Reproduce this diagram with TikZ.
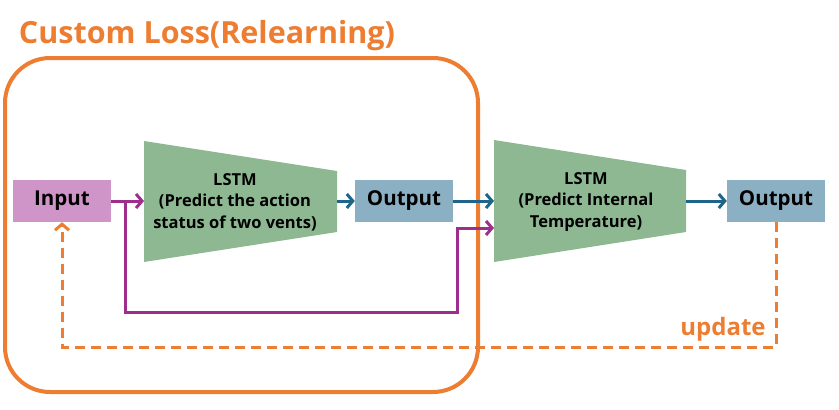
\documentclass[tikz,border=0pt]{standalone}
\usepackage{fontspec}
\setmainfont{Open Sans}
\usetikzlibrary{arrows.meta, positioning}
\definecolor{lossorange}{HTML}{ED7D31}
\definecolor{inpink}{HTML}{CF94C8}
\definecolor{lstmgreen}{HTML}{8DB892}
\definecolor{outblue}{HTML}{8BAFC3}
\definecolor{linkpurple}{HTML}{9E2E8E}
\definecolor{linkblue}{HTML}{1F6489}

\tikzset{
  databox/.style={minimum width=98pt, minimum height=42pt, inner sep=0pt,
    font=\fontsize{20.5}{24}\selectfont\bfseries},
  lstmtext/.style={align=center, inner sep=0pt,
    font=\fontsize{16.5}{21.5}\selectfont\bfseries},
  purplelink/.style={draw=linkpurple, line width=3pt,
    -{Straight Barb[length=6pt,width=14pt]}},
  bluelink/.style={draw=linkblue, line width=3pt,
    -{Straight Barb[length=6pt,width=14pt]}},
  updatelink/.style={draw=lossorange, line width=3pt, dash pattern=on 10pt off 6pt,
    -{Straight Barb[length=6pt,width=14pt]}},
}

\begin{document}
\begin{tikzpicture}[x=1pt, y=-1pt]
  \useasboundingbox (0,0) rectangle (839,410);

  % relearning frame
  \draw[lossorange, line width=4pt, rounded corners=45pt] (5,58) rectangle (478,392);
  \node[text=lossorange, font=\fontsize{30.5}{34}\selectfont\bfseries] (title) at (207,36) {Custom Loss(Relearning)};

  % boxes
  \node[databox, fill=inpink] (input) at (62,201) {Input};
  \node[databox, fill=outblue] (outA) at (404,201) {Output};
  \node[databox, fill=outblue] (outB) at (776,201) {Output};

  % two LSTM blocks
  \fill[lstmgreen] (144,141) -- (337,171) -- (337,232) -- (144,262) -- cycle;
  \fill[lstmgreen] (494,140) -- (686,170) -- (686,232) -- (494,262) -- cycle;
  \coordinate (lstmAin) at (144,201);
  \coordinate (lstmAout) at (337,201);
  \coordinate (lstmBin) at (494,201);
  \coordinate (lstmBlow) at (494,228);
  \coordinate (lstmBout) at (686,201);
  \node[lstmtext] (lstmA) at (235,202) {LSTM\\(Predict the action\\status of two vents)};
  \node[lstmtext] (lstmB) at (586,202) {LSTM\\(Predict Internal\\Temperature)};

  % connections
  \coordinate (split) at (125,201);
  \draw[purplelink] (input) -- (lstmAin);
  \draw[purplelink] (split) -- ++(0,111) -| (457,228) -- (lstmBlow);
  \draw[bluelink] (lstmAout) -- (outA);
  \draw[bluelink] (outA) -- (lstmBin);
  \draw[bluelink] (lstmBout) -- (outB);

  % update loop
  \draw[updatelink] (outB.south) -- ++(0,125) -| (input.south);
  \node[text=lossorange, font=\fontsize{24}{28}\selectfont\bfseries] (update) at (723,329) {update};
\end{tikzpicture}
\end{document}
